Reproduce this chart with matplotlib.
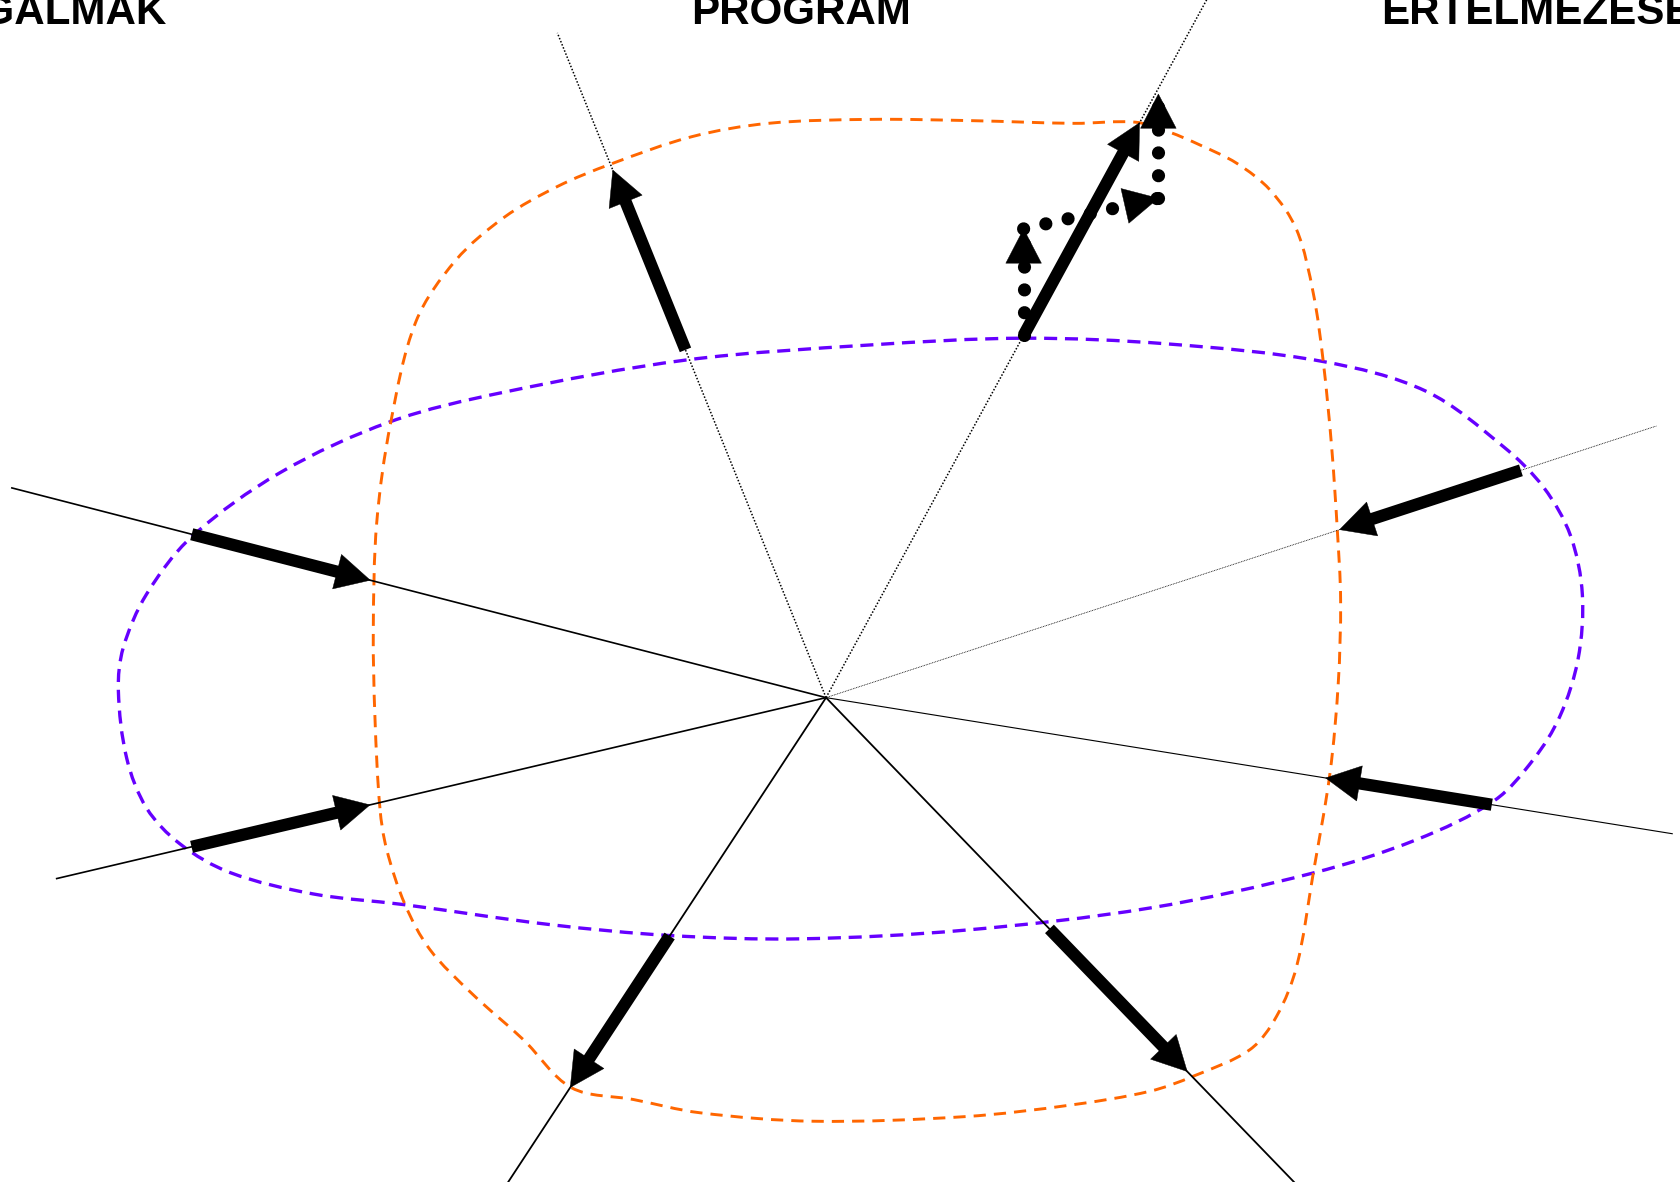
import numpy as np
import matplotlib
matplotlib.use("Agg")
import matplotlib.pyplot as plt
from matplotlib.path import Path
from matplotlib.patches import PathPatch

plt.rcParams['lines.scale_dashes'] = False

# ---------------- data (in reference pixel space, 1568 x 1103 view) ----------------
center_x, center_y = 770.5, 651.0

# rays from the centre: angle (deg, counter-clockwise from +x), length
ray_angles = [165.55, 193.24, 236.74, 314.0, 350.86, 18.12, 61.4, 112.0]
ray_lengths = [785, 738, 560, 650, 800, 815, 745, 669]
ray_widths = [1.2, 1.2, 1.3, 1.3, 0.8, 0.6, 1.1, 1.1]
ray_styles = ['solid', 'solid', 'solid', 'solid', 'solid', 'fine', 'dot', 'dot']

# thick arrows along the rays: start radius -> tip radius
arrow_r_start = [611, 608, 266, 300, 629, 682, 385, 350]
arrow_r_end = [439, 437, 435, 485, 472, 504, 611, 531]

# dotted arrow path (upper right)
dotted_x = [954.8, 954.8, 1080.5, 1080.5]
dotted_y = [313.0, 213.6, 185.0, 87.7]

# orange closed curve
orange_x = [354.4, 349.8, 348.2, 351.4, 364.3, 388.0, 425.0, 470.0, 520.0, 570.0,
            645.1, 716.6, 811.7, 906.8, 1002.0, 1059.0, 1090.0, 1119.3, 1153.5,
            1184.6, 1209.5, 1225.0, 1234.3, 1242.1, 1247.4, 1250.5, 1248.3, 1240.6,
            1225.0, 1209.5, 1190.8, 1166.0, 1113.0, 1072.7, 1000.0, 900.0, 759.0,
            652.9, 590.7, 533.0, 488.0, 440.0, 401.0, 377.8, 360.7]
orange_y = [754.2, 670.9, 587.6, 487.7, 395.0, 300.0, 243.0, 203.0, 174.0, 153.0,
            127.6, 115.1, 111.4, 112.6, 115.1, 114.0, 123.0, 135.3, 152.3,
            177.2, 214.5, 273.6, 337.4, 416.7, 494.4, 560.0, 637.4, 721.3,
            814.6, 901.7, 948.3, 979.4, 1004.3, 1018.3, 1031.0, 1042.0, 1046.3,
            1038.4, 1026.0, 1015.0, 970.0, 927.0, 886.1, 844.1, 792.8]

# purple closed curve
purple_x = [954.5, 1090.0, 1234.3, 1330.0, 1402.2, 1440.0, 1465.0, 1476.0,
            1472.0, 1455.0, 1430.2, 1394.0, 1321.4, 1225.0, 1072.7, 900.0, 746.2,
            625.0, 513.0, 376.2, 292.2, 214.5, 167.9, 136.8, 118.2, 110.4, 115.0,
            136.8, 178.8, 261.2, 363.8, 470.0, 640.4, 811.7]
purple_y = [315.6, 321.0, 337.4, 365.0, 416.7, 455.0, 500.0, 555.0,
            615.0, 668.5, 708.9, 747.0, 783.5, 814.6, 847.3, 868.0, 876.1,
            873.0, 862.8, 844.1, 834.2, 814.2, 787.5, 754.2, 707.6, 644.2, 604.3,
            554.3, 500.9, 441.1, 393.6, 366.0, 335.9, 321.9]

titles = ["FOGALMAK", "PROGRAM", "ÉRTELMEZÉSE"]
title_x = [155.0, 747.5, 1288.0]
title_ha = ['right', 'center', 'left']
title_y = 22.4

# ---------------- drawing ----------------
W, H = 1568, 1103
fig = plt.figure(figsize=(16.81, 11.82), dpi=100)
ax = fig.add_axes([0, 0, 1, 1])
ax.set_xlim(0, W)
ax.set_ylim(H, 0)
ax.axis('off')


def closed_curve(xs, ys):
    P = np.column_stack([xs, ys]).astype(float)
    n = len(P)
    d = np.array([np.hypot(*(P[(i + 1) % n] - P[i])) for i in range(n)])
    T = np.array([(P[(i + 1) % n] - P[i - 1]) / (d[i - 1] + d[i]) for i in range(n)])
    verts = [P[0]]
    codes = [Path.MOVETO]
    for i in range(n):
        j = (i + 1) % n
        verts += [P[i] + T[i] * d[i] / 3.0, P[j] - T[j] * d[i] / 3.0, P[j]]
        codes += [Path.CURVE4] * 3
    return Path(verts, codes)


ax.add_patch(PathPatch(closed_curve(purple_x, purple_y), fill=False,
                       edgecolor='#6600FF', lw=2.4, linestyle=(0, (9.4, 5.6)),
                       capstyle='butt', zorder=1))
ax.add_patch(PathPatch(closed_curve(orange_x, orange_y), fill=False,
                       edgecolor='#FF6600', lw=2.1, linestyle=(0, (8.8, 5.8)),
                       capstyle='butt', zorder=1))


def polar(r, ang):
    a = np.deg2rad(ang)
    return center_x + r * np.cos(a), center_y - r * np.sin(a)


for ang, L, w, st in zip(ray_angles, ray_lengths, ray_widths, ray_styles):
    ex, ey = polar(L, ang)
    if st == 'solid':
        ls = '-'
    elif st == 'fine':
        ls = (0, (0.6, 0.6))
    else:
        ls = (0, (1.1, 1.3))
    ax.plot([center_x, ex], [center_y, ey], color='black', lw=w, ls=ls,
            solid_capstyle='butt', zorder=2)

HEAD_L = 32.0
HEAD_W = 16.6


def head(x0, y0, x1, y1):
    d = np.array([x1 - x0, y1 - y0], float)
    u = d / np.hypot(*d)
    nvec = np.array([-u[1], u[0]])
    tip = np.array([x1, y1])
    base = tip - u * HEAD_L
    pts = np.array([tip, base + nvec * HEAD_W, base - nvec * HEAD_W])
    ax.fill(pts[:, 0], pts[:, 1], color='black', lw=0.3, zorder=5)
    return base + u * 3


# dotted arrow path
for i in range(len(dotted_x) - 1):
    x0, y0, x1, y1 = dotted_x[i], dotted_y[i], dotted_x[i + 1], dotted_y[i + 1]
    ax.plot([x0, x1], [y0, y1], color='black', lw=9.5, ls=(0, (0.01, 16.4)),
            dash_capstyle='round', zorder=3)
    head(x0, y0, x1, y1)

# thick arrows
for ang, r0, r1 in zip(ray_angles, arrow_r_start, arrow_r_end):
    x0, y0 = polar(r0, ang)
    x1, y1 = polar(r1, ang)
    b = head(x0, y0, x1, y1)
    ax.plot([x0, b[0]], [y0, b[1]], color='black', lw=8.8,
            solid_capstyle='butt', zorder=4)

for t, x, ha in zip(titles, title_x, title_ha):
    ax.text(x, title_y, t, ha=ha, va='baseline', fontsize=30.3,
            fontweight='bold', family=['Liberation Sans', 'DejaVu Sans'],
            color='black', zorder=6)

fig.savefig('out.png', dpi=100, facecolor='white')
